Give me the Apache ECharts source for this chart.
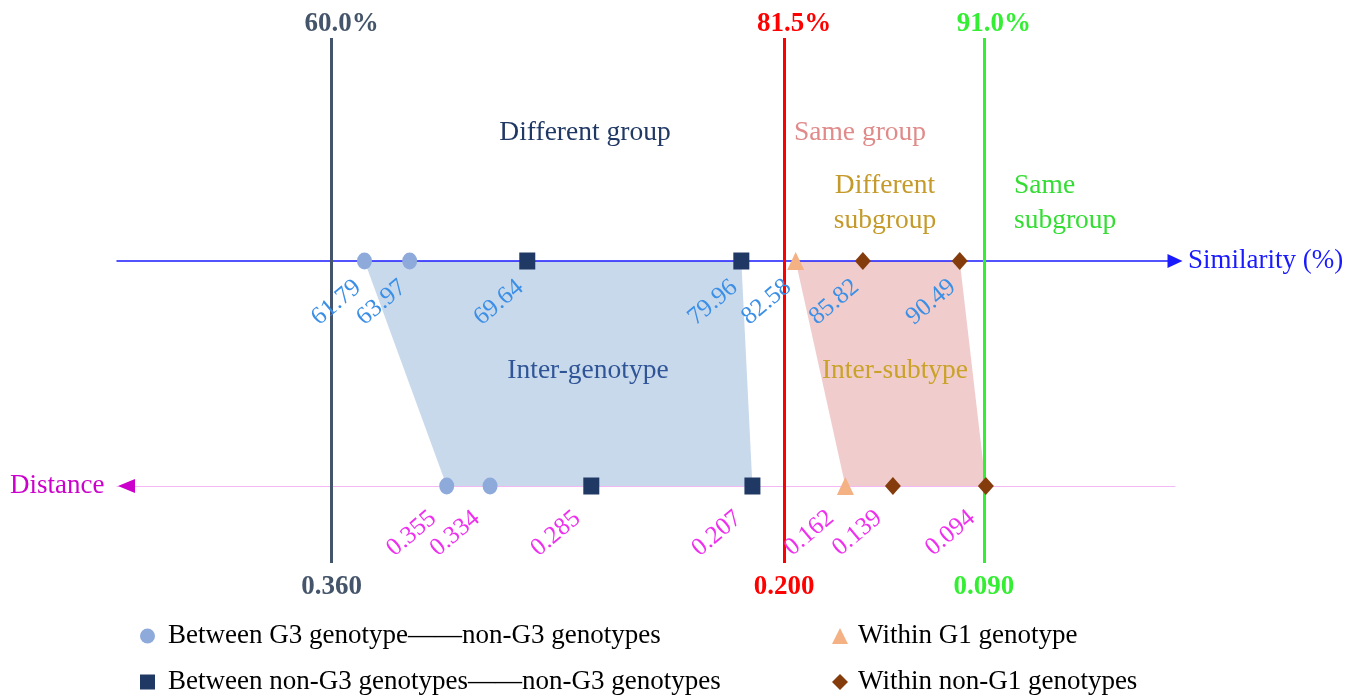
<!DOCTYPE html>
<html><head><meta charset="utf-8">
<script src="https://cdn.jsdelivr.net/npm/echarts@6/dist/echarts.min.js"></script>
<style>html,body{margin:0;padding:0;background:#fff}#c{width:1357px;height:698px}</style>
</head><body><div id="c"></div>
<script>
const SERIF = "'Liberation Serif','DejaVu Serif',serif";

// ---- data ----
const simCircle = [61.79, 63.97];
const simSquare = [69.64, 79.96];
const simTriangle = [82.58];
const simDiamond = [85.82, 90.49];
const distCircle = [0.355, 0.334];
const distSquare = [0.285, 0.207];
const distTriangle = [0.162];
const distDiamond = [0.139, 0.094];
const thresholdSim = [60.0, 81.5, 91.0];
const thresholdDist = [0.360, 0.200, 0.090];
const groupNames = [
  'Between G3 genotype\u2014\u2014non-G3 genotypes',
  'Between non-G3 genotypes\u2014\u2014non-G3 genotypes',
  'Within G1 genotype',
  'Within non-G1 genotypes'
];

// ---- styles ----
const thrColors = ['#44546a', '#ff0000', '#33ee33'];
const markColors = ['#8eaadb', '#1f3864', '#f4b183', '#843c0c'];
const markSymbols = ['circle', 'rect', 'triangle', 'diamond'];
const markSizes = [[15, 17], [16, 17], [17, 18], [16, 18]];

const chart = echarts.init(document.getElementById('c'));
const GRID = {left: 117, top: 38, width: 1058, height: 525};

function simLabel() {
  return {show: true, formatter: p => p.value[0].toFixed(2), rotate: 40,
    position: [1, 32], align: 'right', verticalAlign: 'middle',
    color: '#3b8fe6', fontSize: 25, fontFamily: SERIF};
}
function distLabel() {
  return {show: true, formatter: p => p.value[0].toFixed(3), rotate: 40,
    position: [-6, 38], align: 'right', verticalAlign: 'middle',
    color: '#ee30ee', fontSize: 25, fontFamily: SERIF};
}

const simSets = [simCircle, simSquare, simTriangle, simDiamond];
const distSets = [distCircle, distSquare, distTriangle, distDiamond];
const series = [];
simSets.forEach((arr, i) => {
  series.push({type: 'scatter', name: groupNames[i], xAxisIndex: 0, yAxisIndex: 0,
    symbol: markSymbols[i], symbolSize: markSizes[i], itemStyle: {color: markColors[i], opacity: 1},
    data: arr.map(v => [v, 0]), label: simLabel(), z: 5, silent: true});
});
distSets.forEach((arr, i) => {
  series.push({type: 'scatter', name: groupNames[i], xAxisIndex: 1, yAxisIndex: 1,
    symbol: markSymbols[i], symbolSize: markSizes[i], itemStyle: {color: markColors[i], opacity: 1},
    data: arr.map(v => [v, 0]), label: distLabel(), z: 5, silent: true});
});
// threshold lines (on the schematic threshold axis)
const mlData = [];
thresholdSim.forEach((v, i) => {
  mlData.push({xAxis: v, lineStyle: {color: thrColors[i], width: 3, type: 'solid'},
    label: {show: true, position: 'end', formatter: v.toFixed(1) + '%', color: thrColors[i],
      fontSize: 27, fontWeight: 'bold', fontFamily: SERIF, distance: 0, offset: [10, 0]}});
  mlData.push({xAxis: v, lineStyle: {color: thrColors[i], width: 3, type: 'solid'},
    label: {show: true, position: 'start', formatter: thresholdDist[i].toFixed(3), color: thrColors[i],
      fontSize: 27, fontWeight: 'bold', fontFamily: SERIF, distance: 11}});
});
series.push({type: 'scatter', name: 'thresholds', xAxisIndex: 2, yAxisIndex: 0, data: [], z: 3,
  markLine: {silent: true, symbol: ['none', 'none'], animation: false, data: mlData}});

function mkLegend(idx, left, top, icon, iw, pad) {
  return {left: left, top: top, orient: 'vertical', padding: 0, itemWidth: iw, itemHeight: iw, selectedMode: false,
    data: [{name: groupNames[idx], icon: icon}],
    textStyle: {fontSize: 27, fontFamily: SERIF, color: '#000', lineHeight: 28, padding: [0, 0, 0, pad]}};
}
const hiddenAxisParts = {axisLabel: {show: false}, axisTick: {show: false}, splitLine: {show: false}};
const option = {
  animation: false,
  backgroundColor: '#fff',
  grid: GRID,
  xAxis: [
    Object.assign({type: 'value', min: 49.859, max: 100.869,
      axisLine: {show: true, onZero: true, onZeroAxisIndex: 0, symbol: ['none', 'triangle'], symbolSize: [14, 15],
        lineStyle: {color: '#1a1aff', width: 1.5}}}, hiddenAxisParts),
    Object.assign({type: 'value', min: 0.00244, max: 0.5146, inverse: true,
      axisLine: {show: true, onZero: true, onZeroAxisIndex: 1, lineStyle: {color: '#f4b8f4', width: 1.2}}}, hiddenAxisParts),
    Object.assign({type: 'value', min: 49.803, max: 100.081, axisLine: {show: false}}, hiddenAxisParts)
  ],
  yAxis: [
    {type: 'value', min: -1.3422, max: 0.9911, show: false, axisLine: {show: false}, splitLine: {show: false}},
    {type: 'value', min: -0.3422, max: 1.9911, show: false, axisLine: {show: false}, splitLine: {show: false}}
  ],
  legend: [
    mkLegend(0, 140, 622, 'circle', 15, 8),
    mkLegend(1, 140, 668, 'rect', 15, 8),
    mkLegend(2, 832, 622, 'triangle', 16, 5),
    mkLegend(3, 832, 668, 'diamond', 16, 5)
  ],
  series: series
};
chart.setOption(option);

const ps = v => chart.convertToPixel({xAxisIndex: 0, yAxisIndex: 0}, [v, 0]);
const pd = d => chart.convertToPixel({xAxisIndex: 1, yAxisIndex: 1}, [d, 0]);
function poly(simArr, distArr) {
  return [ps(Math.min(...simArr)), ps(Math.max(...simArr)), pd(Math.min(...distArr)), pd(Math.max(...distArr))];
}
const bluePts = poly(simCircle.concat(simSquare), distCircle.concat(distSquare));
const pinkPts = poly(simTriangle.concat(simDiamond), distTriangle.concat(distDiamond));
const ySim = ps(60)[1], yDist = pd(0.2)[1];
const gl = GRID.left;

function txt(text, x, y, fill, align, size) {
  return {type: 'text', x: x, y: y, silent: true, z: 10,
    style: {text: text, fill: fill, font: (size || 27.5) + 'px ' + SERIF, textAlign: align || 'center', textVerticalAlign: 'middle', lineHeight: 35}};
}

chart.setOption({
  graphic: {elements: [
    {type: 'polygon', shape: {points: bluePts}, style: {fill: '#c9d9ec'}, z: -1, silent: true},
    {type: 'polygon', shape: {points: pinkPts}, style: {fill: '#f0cdcc'}, z: -1, silent: true},
    {type: 'polygon', shape: {points: [[gl + 1, yDist], [gl + 18, yDist - 7], [gl + 18, yDist + 7]]}, style: {fill: '#cc00cc'}, z: 10, silent: true},
    txt('Distance', 10, yDist, '#cc00cc', 'left', 27),
    txt('Similarity (%)', 1188, ySim, '#1a1aff', 'left', 27),
    txt('Different group', 585, 133, '#203864'),
    txt('Same group', 860, 133, '#e08a8a'),
    txt('Different\nsubgroup', 885, 203, '#c49a2a'),
    txt('Same\nsubgroup', 1014, 203, '#33dd33', 'left'),
    txt('Inter-genotype', 588, 371, '#2f5597'),
    txt('Inter-subtype', 895, 371, '#c9a227')
  ]}
});
</script></body></html>
